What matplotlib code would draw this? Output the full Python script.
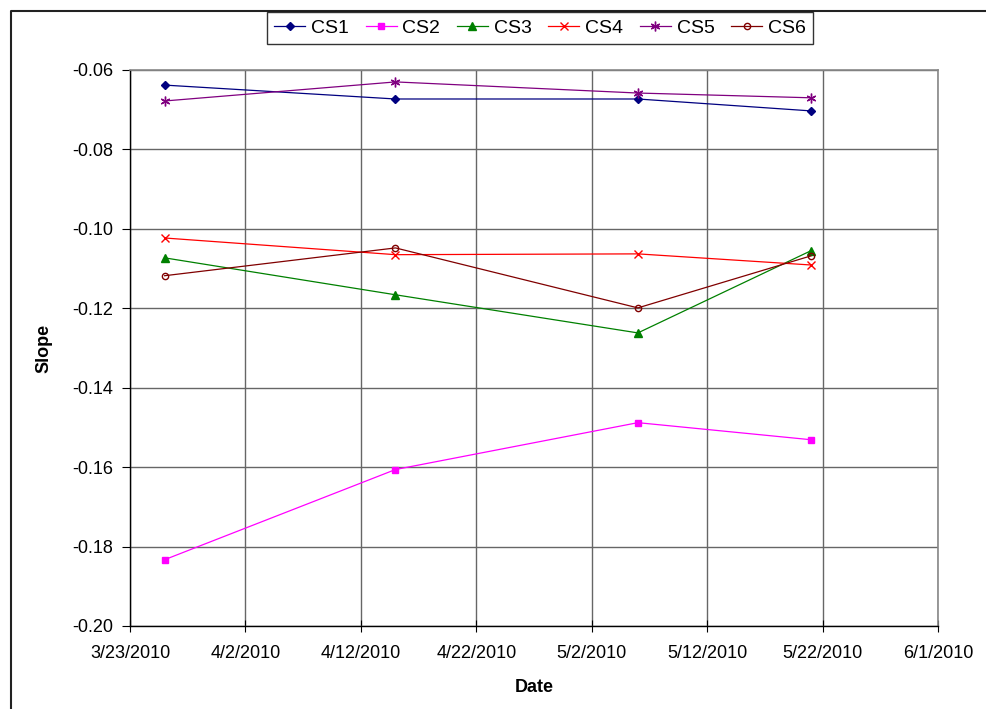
import matplotlib
matplotlib.use('Agg')
import matplotlib.pyplot as plt
from matplotlib.lines import Line2D
import pandas as pd

plt.rcParams['font.family'] = ['Liberation Sans', 'DejaVu Sans']
plt.rcParams['axes.unicode_minus'] = False

# survey dates and slope per cross-section
dates = pd.to_datetime(['2010-03-26', '2010-04-15', '2010-05-06', '2010-05-21'])
cs1 = [-0.0638, -0.0673, -0.0673, -0.0703]
cs2 = [-0.1833, -0.1606, -0.1488, -0.1531]
cs3 = [-0.1073, -0.1166, -0.1262, -0.1055]
cs4 = [-0.1023, -0.1065, -0.1063, -0.1091]
cs5 = [-0.0678, -0.0630, -0.0658, -0.0670]
cs6 = [-0.1118, -0.1048, -0.1199, -0.1068]

series = [
    ('CS1', cs1, '#000080', 'D', 4.5, True),
    ('CS2', cs2, '#FF00FF', 's', 4, True),
    ('CS3', cs3, '#008000', '^', 6, True),
    ('CS4', cs4, '#FF0000', 'x', 6, True),
    ('CS5', cs5, '#800080', (6, 2, 0), 7, True),
    ('CS6', cs6, '#800000', 'o', 4.5, False),
]

fig = plt.figure(figsize=(9.87, 7.09), dpi=100)
ax = fig.add_axes([130 / 987, 1 - 626 / 709, (938 - 130) / 987, (626 - 70) / 709])

for name, vals, col, mk, ms, filled in series:
    ax.plot(dates, vals, color=col, lw=0.9, marker=mk, markersize=ms,
            markerfacecolor=col if filled else 'none', markeredgecolor=col,
            markeredgewidth=1.0, label=name)

ax.set_ylim(-0.20, -0.06)
ax.set_yticks([-0.20, -0.18, -0.16, -0.14, -0.12, -0.10, -0.08, -0.06])
ax.yaxis.set_major_formatter(plt.FormatStrFormatter('%.2f'))

xticks = pd.date_range('2010-03-23', '2010-06-01', freq='10D')
ax.set_xlim(xticks[0], xticks[-1])
ax.set_xticks(xticks)
ax.set_xticklabels([f'{d.month}/{d.day}/{d.year}' for d in xticks])

ax.grid(True, color='#666666', lw=1.0)
ax.set_axisbelow(True)
for side in ['top', 'right']:
    ax.spines[side].set_color('#888888')
    ax.spines[side].set_linewidth(1.2)
for side in ['left', 'bottom']:
    ax.spines[side].set_color('black')
    ax.spines[side].set_linewidth(1.0)
ax.tick_params(axis='y', direction='out', length=6, labelsize=13, pad=6)
ax.tick_params(axis='x', direction='inout', length=8, labelsize=13, pad=10)

ax.set_ylabel('Slope', fontsize=13, fontweight='bold', labelpad=14)
ax.set_xlabel('Date', fontsize=13, fontweight='bold', labelpad=12)

leg = fig.legend(loc='center', bbox_to_anchor=(540 / 987, 1 - 28 / 709), ncol=6,
                 fontsize=14, frameon=True, fancybox=False, handlelength=1.6,
                 handletextpad=0.3, columnspacing=0.85, borderpad=0.35)
leg.get_frame().set_edgecolor('black')
leg.get_frame().set_linewidth(1.0)

# outer chart border (left and top edges visible)
fig.add_artist(Line2D([11 / 987, 11 / 987, 1.0], [0.0, 1 - 11 / 709, 1 - 11 / 709],
                      transform=fig.transFigure, color='#222222', lw=1.5))

fig.savefig('out.png', dpi=100)
